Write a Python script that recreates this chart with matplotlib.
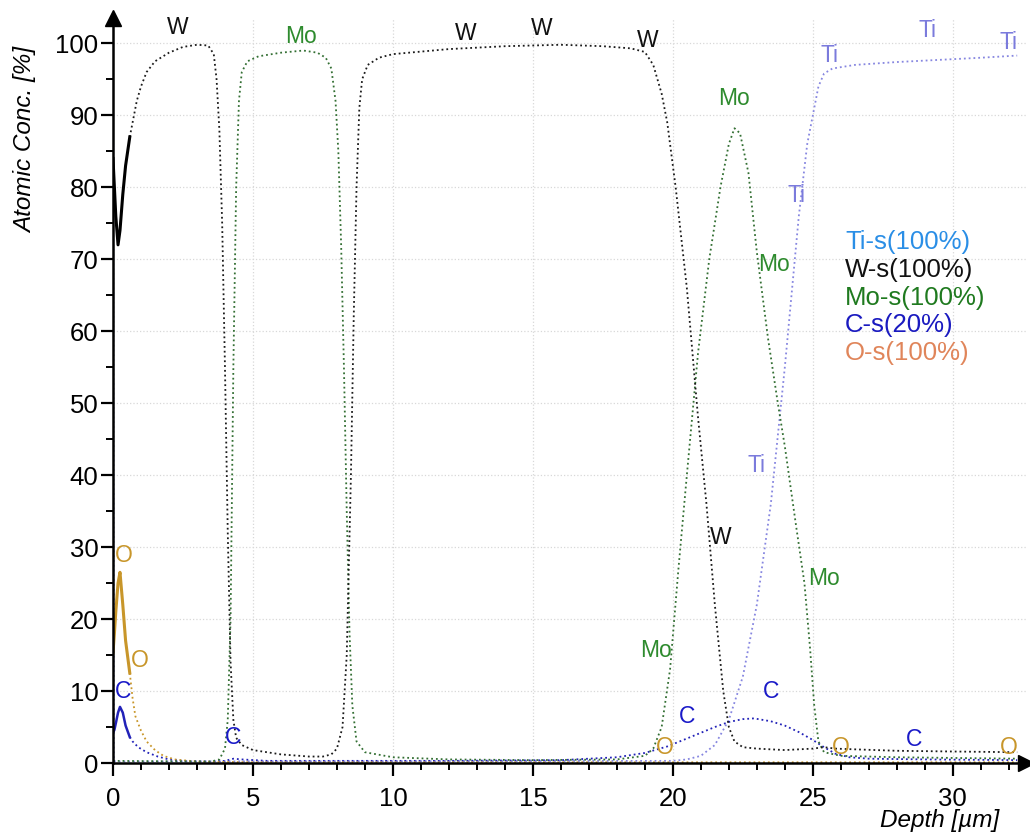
import matplotlib.pyplot as plt

plt.rcParams['font.family'] = ['Liberation Sans', 'DejaVu Sans']

# ---- data ----
# solid surface segments (first ~0.6 um)
surf_depth = [0, 0.05, 0.1, 0.18, 0.25, 0.35, 0.45, 0.6]
w_surf = [84, 80, 76, 72, 74, 79, 83, 87]
c_surf = [4.2, 4.6, 5.5, 7.0, 7.8, 7.0, 5.2, 3.6]
o_surf = [15.3, 18, 21, 25, 26.5, 22, 17, 12.5]

w_depth = [0.6, 0.7, 0.85, 1.0, 1.2, 1.5, 2.0, 2.5, 3.0, 3.4, 3.6, 3.7, 3.8, 3.9, 4.0,
           4.1, 4.2, 4.3, 4.4, 4.6, 5.0, 6.0, 7.0, 7.5, 7.8, 8.0, 8.2, 8.35, 8.5, 8.6,
           8.7, 8.8, 8.9, 9.1, 9.5, 10, 12, 14, 16, 17.5, 18.5, 19.0, 19.3, 19.6, 19.8,
           20.1, 20.5, 20.9, 21.2, 21.5, 21.8, 22.0, 22.2, 22.5, 23, 24, 25, 25.4, 25.8,
           26.5, 28, 30, 32.3]
w_conc = [87, 89, 92, 94, 96, 97.5, 98.7, 99.5, 99.8, 99.7, 98.5, 95, 88, 75, 55,
          32, 14, 6, 3.5, 2.5, 1.8, 1.2, 0.9, 0.9, 1.2, 2, 5, 15, 40, 62,
          80, 91, 95, 97, 98, 98.5, 99.2, 99.6, 99.8, 99.6, 99.3, 98.8, 97, 93, 89,
          80, 66, 48, 36, 22, 10, 5, 3, 2.2, 2.0, 1.8, 2.0, 2.2, 2.0,
          1.9, 1.7, 1.6, 1.5]

mo_depth = [0, 3.5, 3.8, 4.0, 4.1, 4.2, 4.3, 4.4, 4.5, 4.6, 4.8, 5.2, 6.0, 6.8, 7.3,
            7.6, 7.8, 7.95, 8.05, 8.15, 8.25, 8.35, 8.45, 8.55, 8.7, 9.0, 10, 12, 15,
            18, 19, 19.3, 19.6, 19.9, 20.2, 20.5, 20.9, 21.3, 21.7, 22.0, 22.2, 22.4,
            22.7, 23.0, 23.4, 23.75, 24.0, 24.4, 24.7, 24.9, 25.05, 25.2, 25.4, 26,
            28, 32.3]
mo_conc = [0.3, 0.2, 0.5, 2, 6, 20, 55, 80, 92, 96, 97.5, 98.2, 98.7, 99, 98.7,
           98, 96.5, 92, 85, 72, 55, 35, 18, 8, 3, 1.5, 0.8, 0.5, 0.4,
           0.5, 1, 2, 5, 13, 27, 40, 57, 70, 80, 86, 88.2, 87.5,
           82, 71, 59, 50, 44, 33, 25, 16, 8, 3, 1.5, 1,
           0.8, 0.6]

ti_depth = [0, 0.03, 0.1, 20, 20.5, 21, 21.5, 22, 22.5, 23.0, 23.5, 24.0, 24.5, 24.8,
            25.0, 25.2, 25.4, 25.7, 26.5, 28, 29.5, 31, 32.3]
ti_conc = [100, 0.3, 0.2, 0.3, 0.5, 1, 2.5, 6, 12, 22, 36, 55, 76, 86,
           90, 94, 95.8, 96.5, 97, 97.4, 97.7, 98, 98.3]

c_depth = [0.6, 0.7, 0.9, 1.2, 1.6, 2.0, 2.5, 3.5, 4.0, 4.3, 4.6, 5.5, 8, 12, 16, 18,
           19, 19.8, 20.5, 21, 21.5, 22, 22.5, 22.9, 23.5, 24, 24.5, 25, 25.4, 25.8,
           26.3, 27, 29, 32.3]
c_conc = [3.6, 3.0, 2.2, 1.5, 0.9, 0.5, 0.3, 0.2, 0.3, 0.6, 0.5, 0.3, 0.3, 0.3, 0.4, 0.8,
          1.4, 2.3, 3.4, 4.2, 5.0, 5.7, 6.1, 6.2, 5.8, 5.2, 4.3, 3.2, 2.2, 1.3,
          0.8, 0.6, 0.5, 0.4]

o_depth = [0.6, 0.7, 0.8, 1.0, 1.2, 1.5, 1.8, 2.2, 3.0, 5.0, 32.3]
o_conc = [12.5, 9, 6.5, 4.5, 3, 1.8, 1.0, 0.5, 0.2, 0.1, 0.1]

# element labels placed along the curves (depth, conc)
w_labels = [(2.3, 102.2), (12.6, 101.4), (15.3, 102.0), (19.1, 100.4), (21.7, 31.4)]
mo_labels = [(6.7, 101.0), (22.2, 92.4), (23.6, 69.2), (25.4, 25.7), (19.4, 15.6)]
ti_labels = [(25.6, 98.3), (29.1, 101.8), (32.0, 100.1), (24.4, 78.9), (23.0, 41.4)]
c_labels = [(0.36, 9.9), (4.3, 3.6), (20.5, 6.5), (23.5, 9.9), (28.6, 3.2)]
o_labels = [(0.4, 28.8), (0.96, 14.3), (19.7, 2.2), (26.0, 2.1), (32.0, 2.1)]

legend_names = ['Ti-s(100%)', 'W-s(100%)', 'Mo-s(100%)', 'C-s(20%)', 'O-s(100%)']
legend_colors = ['#2a8ee6', '#111111', '#1f7a1f', '#1a1ac0', '#e0855a']

W_COL = '#1a1a1a'
MO_COL = '#336f33'
TI_COL = '#8686e0'
C_COL = '#2222b8'
O_COL = '#c8962a'


fig = plt.figure(figsize=(10.3, 8.36), dpi=100)
ax = fig.add_axes([0.1097, 0.0873, 0.886, 0.891])

ax.grid(True, which='major', color='#d8d8d8', linestyle=':', linewidth=0.9)
ax.set_axisbelow(True)

dot = dict(linestyle=':', linewidth=1.3)
ax.plot(ti_depth, ti_conc, color=TI_COL, **dot)
ax.plot(c_depth, c_conc, color=C_COL, **dot)
ax.plot(o_depth, o_conc, color=O_COL, **dot)
ax.plot(mo_depth, mo_conc, color=MO_COL, **dot)
ax.plot(w_depth, w_conc, color=W_COL, **dot)

ax.plot(surf_depth, o_surf, color=O_COL, linewidth=2.2)
ax.plot(surf_depth, c_surf, color=C_COL, linewidth=1.8)
ax.plot(surf_depth, w_surf, color='black', linewidth=2.2)

lab_kw = dict(fontsize=16.5, ha='center', va='center')
for x, y in w_labels:
    ax.text(x, y, 'W', color='#111111', clip_on=False, **lab_kw)
for x, y in mo_labels:
    ax.text(x, y, 'Mo', color='#2e8b2e', clip_on=False, **lab_kw)
for x, y in ti_labels:
    ax.text(x, y, 'Ti', color='#7b7bdc', clip_on=False, **lab_kw)
for x, y in c_labels:
    ax.text(x, y, 'C', color='#1a1ac8', clip_on=False, **lab_kw)
for x, y in o_labels:
    ax.text(x, y, 'O', color=O_COL, clip_on=False, **lab_kw)

# legend as coloured text lines
for i, (name, col) in enumerate(zip(legend_names, legend_colors)):
    ax.text(0.802, 0.699 - i * 0.0372, name, color=col, fontsize=18.5,
            transform=ax.transAxes, ha='left', va='center')

ax.set_xlim(0, 32.6)
ax.set_ylim(0, 103.5)
ax.set_xticks([0, 5, 10, 15, 20, 25, 30])
ax.set_xticks(range(0, 33), minor=True)
ax.set_yticks(range(0, 101, 10))
ax.set_yticks(range(0, 101, 5), minor=True)
ax.tick_params(which='major', length=9, width=1.6, labelsize=18.5, direction='out')
ax.tick_params(axis='x', which='major', pad=8)
ax.tick_params(axis='y', which='major', pad=1.5)
ax.tick_params(which='minor', length=5, width=1.4, direction='out')

for side in ['top', 'right']:
    ax.spines[side].set_visible(False)
for side in ['left', 'bottom']:
    ax.spines[side].set_linewidth(1.8)

# arrow heads at the ends of the axes
ax.plot(1, 0, '>k', markersize=12, transform=ax.get_yaxis_transform(), clip_on=False)
ax.plot(0, 1, '^k', markersize=12, transform=ax.get_xaxis_transform(), clip_on=False)

ax.set_ylabel('Atomic Conc. [%]', fontsize=17.5, style='italic')
ax.yaxis.set_label_coords(-0.083, 0.836)
ax.set_xlabel('Depth [\u00b5m]', fontsize=17.5, style='italic')
ax.xaxis.set_label_coords(0.906, -0.062)

fig.savefig('out.png', dpi=100)
